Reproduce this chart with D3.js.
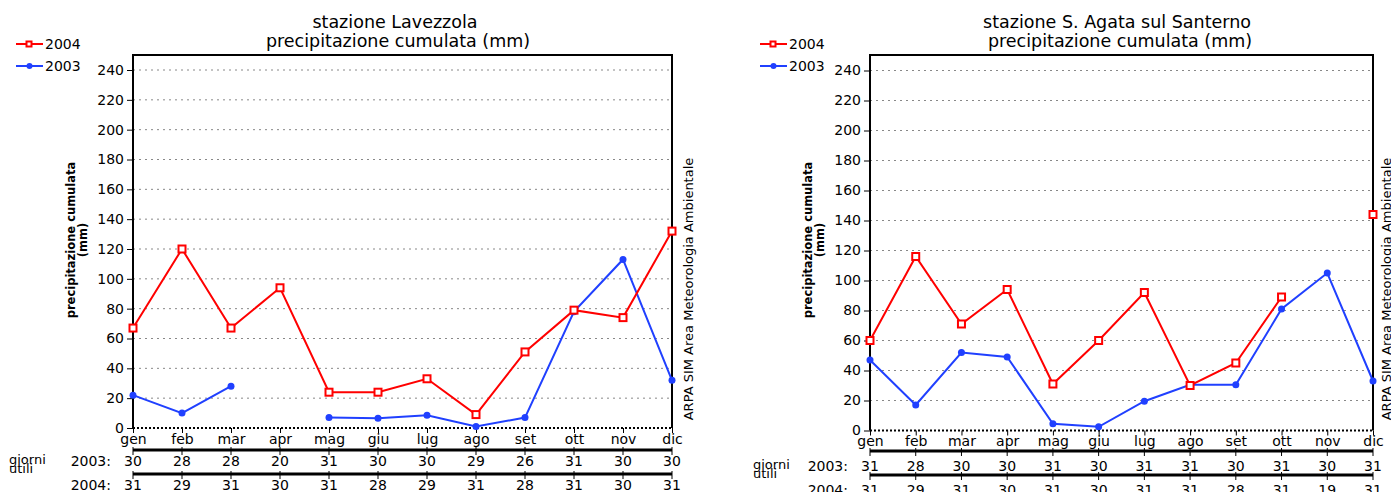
<!DOCTYPE html>
<html>
<head>
<meta charset="utf-8">
<script src="https://cdn.jsdelivr.net/npm/d3@7"></script>
<style>
  body { margin: 0; background: #fff; }
  svg text { font-family: "DejaVu Sans", sans-serif; fill: #000; }
</style>
</head>
<body>
<div id="chart"></div>
<script>
// Data
const months = ['gen', 'feb', 'mar', 'apr', 'mag', 'giu', 'lug', 'ago', 'set', 'ott', 'nov', 'dic'];
const yTicks = [0, 20, 40, 60, 80, 100, 120, 140, 160, 180, 200, 220, 240];

const lavezzola2004 = [67, 120, 67, 94, 24, 24, 33, 9, 51, 79, 74, 132];
const lavezzola2003 = [22, 10, 28, null, 7, 6.5, 8.5, 1, 7, 78, 113, 32];
const lavezzolaDays2003 = [30, 28, 28, 20, 31, 30, 30, 29, 26, 31, 30, 30];
const lavezzolaDays2004 = [31, 29, 31, 30, 31, 28, 29, 31, 28, 31, 30, 31];

const santerno2004 = [60, 116, 71, 94, 31, 60, 92, 30, 45, 89, null, 144];
const santerno2003 = [47, 17, 52, 49, 4.5, 2.5, 19.5, 30.5, 30.5, 81, 105, 33];
const santernoDays2003 = [31, 28, 30, 30, 31, 30, 31, 31, 30, 31, 30, 31];
const santernoDays2004 = [31, 29, 31, 30, 31, 30, 31, 31, 28, 31, 19, 31];

const RED = '#ff0000';
const BLUE = '#2040ff';

const svg = d3.select('#chart')
  .append('svg')
  .attr('width', 1391)
  .attr('height', 492)

function drawPanel(p) {
  const g = svg.append('g')

  const xScale = d3.scalePoint()
    .domain(months)
    .range([p.left, p.right])

  const yScale = d3.scaleLinear()
    .domain([0, 240])
    .range([p.y0, p.y240])

  // gridlines
  g.selectAll('.grid')
    .data(yTicks.filter(d => d > 0))
    .join('line')
    .attr('x1', p.left)
    .attr('x2', p.right)
    .attr('y1', d => yScale(d))
    .attr('y2', d => yScale(d))
    .attr('stroke', '#888')
    .attr('stroke-width', 1)
    .attr('stroke-dasharray', '2,4')

  // axes
  const yAxis = d3.axisLeft(yScale).tickValues(yTicks).tickSize(6).tickPadding(3)
  const ya = g.append('g')
    .attr('transform', `translate(${p.left},0)`)
    .call(yAxis)
  ya.select('.domain').remove()
  ya.selectAll('text').attr('font-size', 14)

  const xAxis = d3.axisBottom(xScale).tickSize(5).tickPadding(1)
  const xa = g.append('g')
    .attr('transform', `translate(0,${p.y0})`)
    .call(xAxis)
  xa.select('.domain').remove()
  xa.selectAll('text').attr('font-size', 14)

  // frame
  g.append('path')
    .attr('d', `M${p.left},${p.y0}V${p.top}H${p.right}V${p.y0}`)
    .attr('fill', 'none')
    .attr('stroke', '#000')
    .attr('stroke-width', 2)
  g.append('line')
    .attr('x1', p.left).attr('x2', p.right)
    .attr('y1', p.y0).attr('y2', p.y0)
    .attr('stroke', '#000')
    .attr('stroke-width', 2)
    .attr('stroke-dasharray', '2,2')

  // series
  const line = d3.line()
    .defined(d => d != null)
    .x((d, i) => xScale(months[i]))
    .y(d => yScale(d))

  const s03 = p.s2003.map((v, i) => ({ v, m: months[i] })).filter(d => d.v != null)
  const s04 = p.s2004.map((v, i) => ({ v, m: months[i] })).filter(d => d.v != null)

  g.append('path')
    .datum(p.s2003)
    .attr('d', line)
    .attr('fill', 'none')
    .attr('stroke', BLUE)
    .attr('stroke-width', 2)
  g.selectAll('.dot03')
    .data(s03)
    .join('circle')
    .attr('cx', d => xScale(d.m))
    .attr('cy', d => yScale(d.v))
    .attr('r', 3.5)
    .attr('fill', BLUE)

  g.append('path')
    .datum(p.s2004)
    .attr('d', line)
    .attr('fill', 'none')
    .attr('stroke', RED)
    .attr('stroke-width', 2)
  g.selectAll('.sq04')
    .data(s04)
    .join('rect')
    .attr('x', d => xScale(d.m) - 3.5)
    .attr('y', d => yScale(d.v) - 3.5)
    .attr('width', 7)
    .attr('height', 7)
    .attr('fill', '#fff')
    .attr('stroke', RED)
    .attr('stroke-width', 2)

  // titles
  g.append('text')
    .attr('x', p.titleX).attr('y', 28)
    .attr('text-anchor', 'middle')
    .attr('font-size', 17.5)
    .text(p.title)
  g.append('text')
    .attr('x', p.titleX + 3).attr('y', 47)
    .attr('text-anchor', 'middle')
    .attr('font-size', 17.5)
    .text('precipitazione cumulata (mm)')

  // y label
  const yl = g.append('text')
    .attr('transform', `translate(${p.left - 58},240) rotate(-90)`)
    .attr('text-anchor', 'middle')
    .attr('font-size', 11.5)
    .attr('font-weight', 'bold')
  yl.append('tspan').attr('x', 0).attr('y', 0).text('precipitazione cumulata')
  yl.append('tspan').attr('x', 0).attr('y', 12).text('(mm)')

  // side credit
  g.append('text')
    .attr('transform', `translate(${p.creditX},289) rotate(-90)`)
    .attr('text-anchor', 'middle')
    .attr('font-size', 13)
    .text('ARPA SIM Area Meteorologia Ambientale')

  // legend
  const lg = g.append('g').attr('transform', `translate(${p.legendX},0)`)
  lg.append('line').attr('x1', 0).attr('x2', 27).attr('y1', 44).attr('y2', 44)
    .attr('stroke', RED).attr('stroke-width', 2)
  lg.append('rect').attr('x', 10.5).attr('y', 41.5).attr('width', 5).attr('height', 5)
    .attr('fill', '#fff').attr('stroke', RED).attr('stroke-width', 2)
  lg.append('text').attr('x', 29).attr('y', 49).attr('font-size', 14).text('2004')
  lg.append('line').attr('x1', 0).attr('x2', 27).attr('y1', 66).attr('y2', 66)
    .attr('stroke', BLUE).attr('stroke-width', 2)
  lg.append('circle').attr('cx', 13.5).attr('cy', 66).attr('r', 3).attr('fill', BLUE)
  lg.append('text').attr('x', 29).attr('y', 71).attr('font-size', 14).text('2003')

  // giorni utili table
  const rows = [
    { label: '2003:', days: p.d2003, lineY: p.tLine1, textY: p.tRow1 },
    { label: '2004:', days: p.d2004, lineY: p.tLine2, textY: p.tRow2 }
  ]
  rows.forEach(r => {
    g.append('line')
      .attr('x1', p.left).attr('x2', p.right)
      .attr('y1', r.lineY).attr('y2', r.lineY)
      .attr('stroke', '#000').attr('stroke-width', 3)
    g.selectAll(null)
      .data(months)
      .join('line')
      .attr('x1', d => xScale(d)).attr('x2', d => xScale(d))
      .attr('y1', r.lineY - 3).attr('y2', r.lineY + 5)
      .attr('stroke', '#000').attr('stroke-width', 1)
    g.selectAll(null)
      .data(r.days)
      .join('text')
      .attr('x', (d, i) => xScale(months[i]))
      .attr('y', r.textY)
      .attr('text-anchor', 'middle')
      .attr('font-size', 14)
      .text(d => d)
    g.append('text')
      .attr('x', p.left - 22).attr('y', r.textY)
      .attr('text-anchor', 'end')
      .attr('font-size', 14)
      .text(r.label)
  })
  g.append('text').attr('x', p.legendX - 7).attr('y', p.tRow1 - 2).attr('font-size', 13).text('giorni')
  g.append('text').attr('x', p.legendX - 7).attr('y', p.tRow1 + 7).attr('font-size', 13).text('utili')
}

drawPanel({
  title: 'stazione Lavezzola',
  left: 133, right: 672, top: 55, y0: 428, y240: 70,
  legendX: 16, titleX: 395, creditX: 693,
  s2003: lavezzola2003, s2004: lavezzola2004,
  d2003: lavezzolaDays2003, d2004: lavezzolaDays2004,
  tLine1: 450, tRow1: 466, tLine2: 474, tRow2: 490
})

drawPanel({
  title: 'stazione S. Agata sul Santerno',
  left: 870, right: 1373, top: 55, y0: 430.5, y240: 70.5,
  legendX: 760, titleX: 1117, creditX: 1391,
  s2003: santerno2003, s2004: santerno2004,
  d2003: santernoDays2003, d2004: santernoDays2004,
  tLine1: 451, tRow1: 471, tLine2: 475, tRow2: 495
})
</script>
</body>
</html>
